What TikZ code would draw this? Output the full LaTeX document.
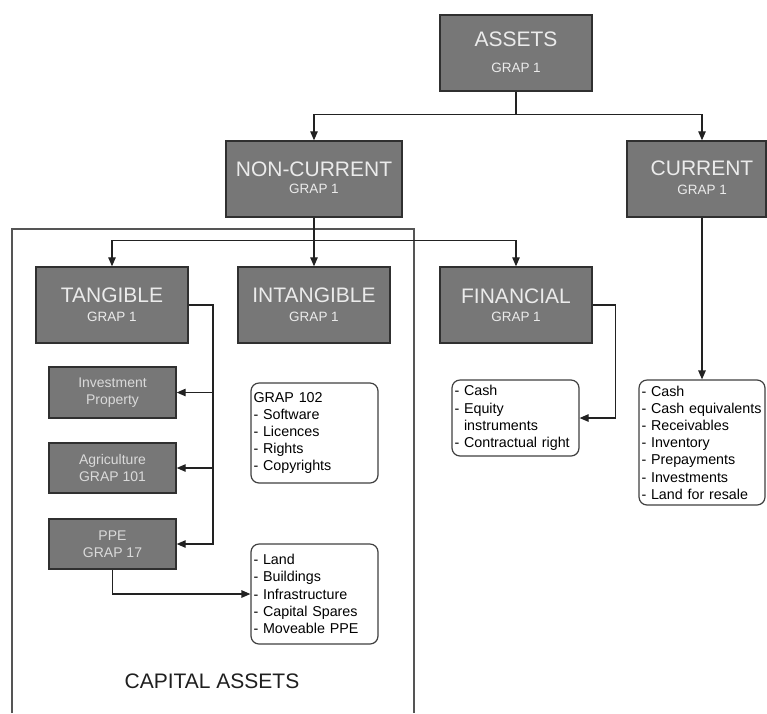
\documentclass[tikz,border=0pt]{standalone}
\usepackage{fontspec}
\setmainfont{Liberation Sans}
\usetikzlibrary{arrows.meta,calc}
\definecolor{boxfill}{HTML}{777777}
\definecolor{boxline}{HTML}{303030}
\definecolor{titletext}{HTML}{EBEBEB}
\definecolor{subtext}{HTML}{DADADA}
\definecolor{conline}{HTML}{222222}
\definecolor{frameline}{HTML}{555555}
\definecolor{listline}{HTML}{404040}
\tikzset{
  darkbox/.style={draw=boxline, line width=1.4pt, fill=boxfill, inner sep=0pt},
  titletxt/.style={text=titletext, inner sep=0pt, font=\fontsize{21}{24}\selectfont},
  subtxt/.style={text=titletext, inner sep=0pt, font=\fontsize{13.5}{16}\selectfont},
  smallbox/.style={draw=boxline, line width=1.4pt, fill=boxfill, inner sep=0pt,
    minimum width=127pt, minimum height=50pt, align=center, text=subtext,
    font=\fontsize{14}{17.5}\selectfont},
  listbox/.style={draw=listline, line width=1.2pt, rounded corners=8pt, fill=white,
    inner xsep=2.5pt, inner ysep=0pt, align=left, font=\fontsize{14.3}{17.2}\selectfont},
  arr/.style={draw=conline, line width=1.2pt, -{Triangle[length=9pt,width=7.5pt]}},
  con/.style={draw=conline, line width=1.2pt},
}
\begin{document}
\begin{tikzpicture}[x=1pt,y=-1pt]
\useasboundingbox (0,0) rectangle (767,713);
% frame of capital assets
\draw[frameline, line width=1.4pt] (12,713) -- (12,229) -- (414,229) -- (414,713);
\node (capital) at (212,681) {\fontsize{21}{24}\selectfont\color{black!88}CAPITAL ASSETS};

% top boxes
\node[darkbox, minimum width=152pt, minimum height=76pt] (assets) at (516,53) {};
\node[titletxt] (assetsT) at (516,39) {ASSETS};
\node[subtxt] (assetsS) at (516,68) {GRAP 1};

\node[darkbox, minimum width=176pt, minimum height=76pt] (noncur) at (314,179) {};
\node[titletxt] (noncurT) at (314,169) {NON-CURRENT};
\node[subtxt] (noncurS) at (314,189) {GRAP 1};

\node[darkbox, minimum width=139pt, minimum height=76pt] (cur) at (696.5,179) {};
\node[titletxt] (curT) at (702,168) {CURRENT};
\node[subtxt] (curS) at (702,190) {GRAP 1};

% second level
\node[darkbox, minimum width=152pt, minimum height=76pt] (tang) at (112,305) {};
\node[titletxt] (tangT) at (112,295) {TANGIBLE};
\node[subtxt] (tangS) at (112,317) {GRAP 1};

\node[darkbox, minimum width=152pt, minimum height=76pt] (intang) at (314,305) {};
\node[titletxt] (intangT) at (314,295) {INTANGIBLE};
\node[subtxt] (intangS) at (314,317) {GRAP 1};

\node[darkbox, minimum width=152pt, minimum height=76pt] (fin) at (516,305) {};
\node[titletxt] (finT) at (516,296) {FINANCIAL};
\node[subtxt] (finS) at (516,317) {GRAP 1};

% tangible sub boxes
\node[smallbox, minimum height=51pt] (inv) at (112.5,392.5) {Investment\\Property};
\node[smallbox] (agri) at (112.5,468) {Agriculture\\GRAP 101};
\node[smallbox] (ppe) at (112.5,544) {PPE\\GRAP 17};

% lists
\node[listbox, text width=122pt, minimum height=100pt] (grap) at (314.5,433)
  {GRAP 102\\- Software\\- Licences\\- Rights\\- Copyrights};
\node[listbox, text width=122pt, minimum height=100pt] (ppel) at (314.5,594)
  {- Land\\- Buildings\\- Infrastructure\\- Capital Spares\\- Moveable PPE};
\node[listbox, text width=122pt, minimum height=76pt] (finl) at (515.5,418)
  {- Cash\\- Equity\\\phantom{- }instruments\\- Contractual right};
\node[listbox, text width=121pt, minimum height=125pt] (curl) at (702,442.5)
  {- Cash\\- Cash equivalents\\- Receivables\\- Inventory\\- Prepayments\\- Investments\\- Land for resale};

% connectors
\coordinate (curtop) at (cur.north -| curl.north);
\coordinate (curbot) at (cur.south -| curl.north);
\draw[arr] (assets.south) -- ++(0,23) -| (noncur.north);
\draw[arr] (assets.south) -- ++(0,23) -| (curtop);
\draw[arr] (curbot) -- (curl.north);

\draw[arr] (noncur.south) -- ++(0,23) -| (tang.north);
\draw[arr] (noncur.south) -- (intang.north);
\draw[arr] (noncur.south) -- ++(0,23) -| (fin.north);

\coordinate (tbus) at (213,305);
\draw[arr] (tang.east) -| (tbus |- ppe.east) -- (ppe.east);
\draw[arr] (tbus |- inv.east) -- (inv.east);
\draw[arr] (tbus |- agri.east) -- (agri.east);

\draw[arr] (fin.east) -- ++(23,0) |- (finl.east);
\draw[arr] (ppe.south) |- (ppel.west);
\end{tikzpicture}
\end{document}
